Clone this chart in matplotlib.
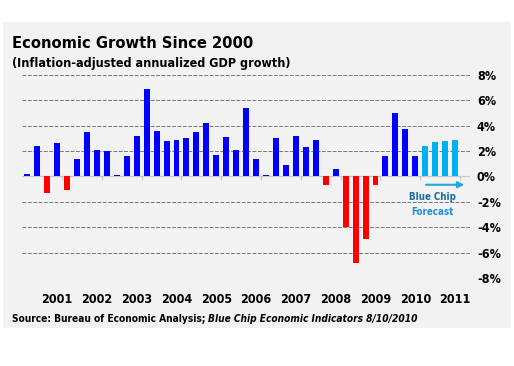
import numpy as np
import matplotlib.pyplot as plt
from matplotlib.patches import Rectangle

# quarterly real GDP growth, 2000 Q3 .. 2011 Q2 (last 4 = Blue Chip forecast)
growth = [0.2, 2.4, -1.3, 2.6, -1.1, 1.4,
          3.5, 2.1, 2.0, 0.1,
          1.6, 3.2, 6.9, 3.6,
          2.8, 2.9, 3.0, 3.5,
          4.2, 1.7, 3.1, 2.1,
          5.4, 1.4, 0.1, 3.0,
          0.9, 3.2, 2.3, 2.9,
          -0.7, 0.6, -4.0, -6.8,
          -4.9, -0.7, 1.6, 5.0,
          3.7, 1.6, 2.4, 2.7, 2.8, 2.9]
n_forecast = 4
years = ['2001', '2002', '2003', '2004', '2005', '2006',
         '2007', '2008', '2009', '2010', '2011']
y_ticks = [-8, -6, -4, -2, 0, 2, 4, 6, 8]

plt.rcParams['font.family'] = ['DejaVu Sans']
plt.rcParams['font.stretch'] = 'condensed'
plt.rcParams['font.weight'] = 'bold'

n = len(growth)
x = np.arange(n)
colors = []
for i, v in enumerate(growth):
    if i >= n - n_forecast:
        colors.append('#00b0f0')
    elif v < 0:
        colors.append('#ff0000')
    else:
        colors.append('#0000ff')

fig = plt.figure(figsize=(5.14, 3.66), dpi=100)
fig.patches.append(Rectangle((3/514, 1-328/366), 508/514, 306/366,
                             transform=fig.transFigure, facecolor='#f2f2f2',
                             edgecolor='none', zorder=-1))
ax = fig.add_axes([22/514, 1-278/366, 448/514, 203.3/366])
ax.set_zorder(2)
ax.set_facecolor('none')

# gridlines
for t in y_ticks:
    if t != 0:
        ax.axhline(t, color='#7a7a7a', lw=0.7, ls=(0, (4, 1.5)), zorder=1)
ax.axhline(0, color='#c8c8c8', lw=0.9, zorder=1)
ax.vlines(np.arange(3.5, n, 4), -0.25, 0, color='#c8c8c8', lw=0.8, zorder=1)

ax.bar(x, growth, width=0.6, color=colors, zorder=2)

ax.set_xlim(-0.53, 44.5)
ax.set_ylim(-8, 8)
for s in ax.spines.values():
    s.set_visible(False)

ax.set_xticks(np.arange(3, n, 4))
ax.set_xticklabels(years, fontsize=9, fontweight='bold')
ax.tick_params(axis='x', length=0, pad=11)
ax.yaxis.tick_right()
ax.set_yticks(y_ticks)
ax.set_yticklabels([f'{t}%' for t in y_ticks], fontsize=9, fontweight='bold')
ax.tick_params(axis='y', length=0, pad=5)

# forecast arrow + label
ax.annotate('', xy=(44.2, -0.66), xytext=(39.8, -0.66),
            arrowprops=dict(arrowstyle='-|>', color='#1fa7e0', lw=1.5,
                            mutation_scale=9), zorder=3)
ax.text(40.7, -1.6, 'Blue Chip', color='#1b6aa5', fontsize=7,
        fontweight='bold', ha='center', va='center')
ax.text(40.7, -2.77, 'Forecast', color='#1f8fd6', fontsize=7,
        fontweight='bold', ha='center', va='center')

# titles
fig.text(12/514, 1-44/366, 'Economic Growth Since 2000', fontsize=11.8,
         fontweight='bold', va='center', ha='left')
fig.text(12/514, 1-63/366, '(Inflation-adjusted annualized GDP growth)',
         fontsize=9, fontweight='bold', va='center', ha='left')

src = fig.text(12/514, 1-319/366, 'Source: Bureau of Economic Analysis; ',
               fontsize=7.3, fontweight='bold', va='center', ha='left')
ax.annotate('Blue Chip Economic Indicators 8/10/2010', xy=(1, 0),
            xycoords=src, va='bottom', ha='left', fontsize=7.3,
            fontweight='bold', fontstyle='italic', annotation_clip=False)

fig.savefig('out.png', dpi=100)
